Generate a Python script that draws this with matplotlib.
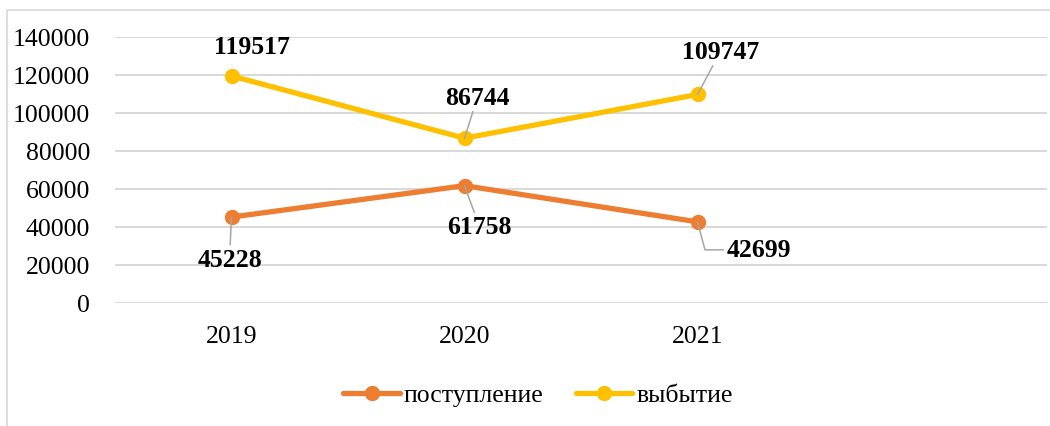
import matplotlib
matplotlib.use("Agg")
import matplotlib.pyplot as plt
import numpy as np
from matplotlib.patches import Rectangle

# ---- data ----
categories = ["2019", "2020", "2021", ""]
postuplenie = [45228, 61758, 42699]
vybytie = [119517, 86744, 109747]
series_names = ["поступление", "выбытие"]
y_ticks = [0, 20000, 40000, 60000, 80000, 100000, 120000, 140000]

# ---- style ----
plt.rcParams['font.family'] = ['Liberation Serif', 'DejaVu Serif']
FS = 18.5
ORANGE = "#ED7D31"
GOLD = "#FFC000"
GRID = "#D9D9D9"
LEADER = "#A6A6A6"

W, H = 1050, 427
fig = plt.figure(figsize=(W / 100, H / 100), dpi=100)
fig.patch.set_facecolor("white")

# chart border (outer frame)
fig.add_artist(Rectangle((7 / W, -0.1), 1.2, (1 - 11 / H) + 0.1,
                         transform=fig.transFigure, fill=False,
                         edgecolor=GRID, linewidth=1.2, clip_on=False))

ax = fig.add_axes([115 / W, (H - 304) / H, (1047 - 115) / W, 266 / H])
ax.set_xlim(-0.5, len(categories) - 0.5)
ax.set_ylim(0, 140000)
ax.set_yticks(y_ticks)
ax.set_yticklabels([str(v) for v in y_ticks], fontsize=FS)
ax.set_xticks(np.arange(len(categories)))
ax.set_xticklabels(categories, fontsize=FS)
ax.tick_params(axis='both', length=0)
ax.tick_params(axis='y', pad=18)
ax.tick_params(axis='x', pad=16)
for s in ax.spines.values():
    s.set_visible(False)
ax.yaxis.grid(True, color=GRID, linewidth=1.4)
ax.set_axisbelow(True)

x1 = np.arange(len(postuplenie))
x2 = np.arange(len(vybytie))
l1, = ax.plot(x1, postuplenie, color=ORANGE, linewidth=3.8, marker='o',
              markersize=10, label=series_names[0], solid_capstyle='round')
l2, = ax.plot(x2, vybytie, color=GOLD, linewidth=3.8, marker='o',
              markersize=10, label=series_names[1], solid_capstyle='round')

# label offsets in pixels (dx, dy with y up) and connection styles
off1 = [(-2, -42), (15, -41), (61, -28)]
off2 = [(20, 29), (13, 41), (23, 43)]
conn1 = ["arc3", "arc3", "angle,angleA=0,angleB=105,rad=0"]
conn2 = [None, "arc3", "arc3"]

def label(xs, ys, offs, conns):
    for x, y, o, c in zip(xs, ys, offs, conns):
        ap = None
        if c is not None:
            ap = dict(arrowstyle='-', color=LEADER, lw=1.1,
                      shrinkA=0, shrinkB=0, connectionstyle=c)
        ax.annotate(str(y), xy=(x, y), xytext=o, textcoords='offset pixels',
                    ha='center', va='center', fontsize=FS, fontweight='bold',
                    arrowprops=ap)

label(x1, postuplenie, off1, conn1)
label(x2, vybytie, off2, conn2)

fig.legend(handles=[l1, l2], labels=series_names, loc='center',
           bbox_to_anchor=(538 / W, 1 - 396 / H), ncol=2, frameon=False,
           fontsize=FS, handlelength=2.2, handletextpad=0.15,
           columnspacing=1.25)

fig.savefig("out.png", dpi=100, facecolor="white")
